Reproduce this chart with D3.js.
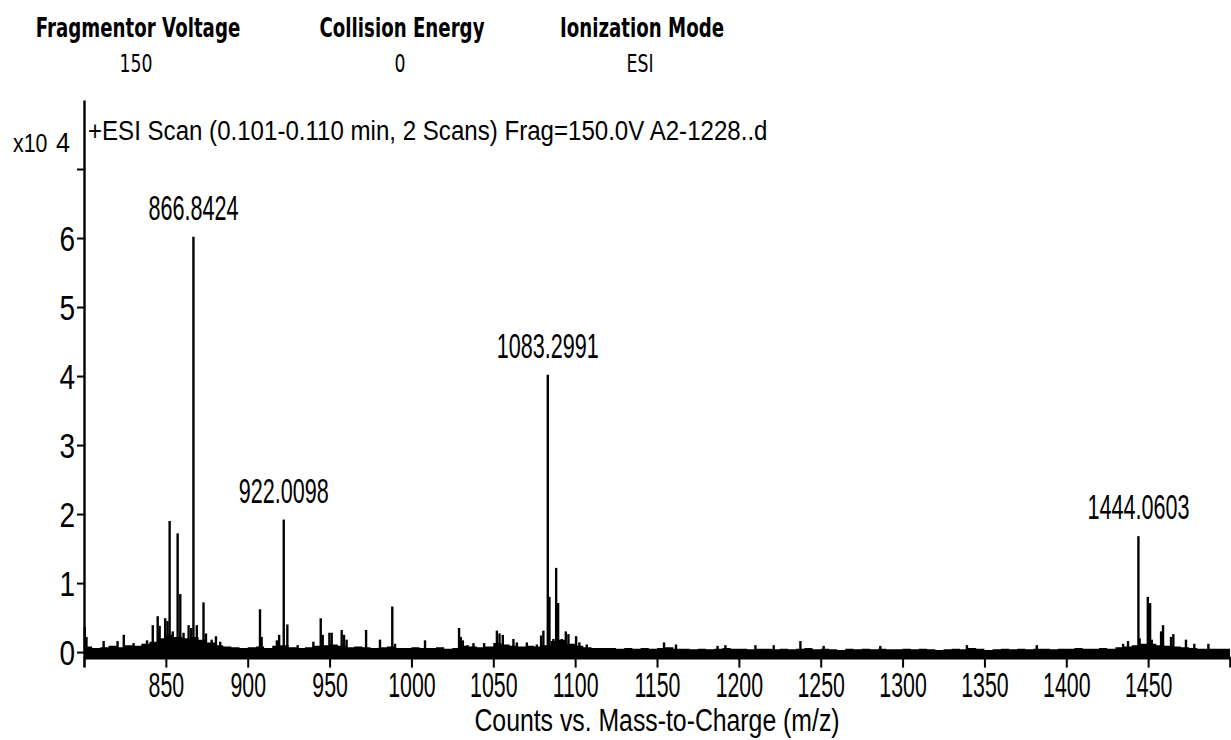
<!DOCTYPE html>
<html><head><meta charset="utf-8">
<script src="https://cdn.jsdelivr.net/npm/d3@7"></script>
<style>
html,body{margin:0;padding:0;background:#fff;}
svg{display:block;}
text{font-family:"Liberation Sans",Arial,sans-serif;fill:#000;}
</style></head><body>
<svg id="chart" width="1231" height="740"></svg>
<script>
// ---------- data ----------
const headerLabels = ["Fragmentor Voltage", "Collision Energy", "Ionization Mode"];
const headerValues = ["150", "0", "ESI"];
const scanTitle = "+ESI Scan (0.101-0.110 min, 2 Scans) Frag=150.0V A2-1228..d";
const yUnitBase = "x10";
const yUnitExp = "4";
const xAxisTitle = "Counts vs. Mass-to-Charge (m/z)";
const xDomain = [800, 1500];
const yDomain = [-0.08, 8];
const xTicks = [850, 900, 950, 1000, 1050, 1100, 1150, 1200, 1250, 1300, 1350, 1400, 1450];
const yTicks = [0, 1, 2, 3, 4, 5, 6, 7];
const yTickLabels = ["0", "1", "2", "3", "4", "5", "6", ""];

// stick peaks: m/z and counts (x10^4)
const peakMz = [
  800.5, 801.5, 812, 820.5, 824.3, 830.3, 838.5, 842, 845, 846.2, 849.6, 851, 852.3, 854.2,
  857.2, 858.8, 860.8, 863.9, 865.5, 866.8424, 868.9, 873, 874.5, 878, 880.6, 883.2,
  907.5, 908.5, 917.8, 919.2, 922.0098, 924.2, 930.5, 940.1, 944.6, 945.8, 949.9, 951.3,
  957.4, 958.8, 960.4, 972.3, 980.8, 988.3, 990,
  1008.3, 1029.1, 1030.1, 1031.4, 1034.2, 1037.9, 1044.4, 1052.2, 1053.8, 1055.8, 1062.3,
  1064.4, 1070.5, 1076.6, 1079.2, 1080.6, 1083.2991, 1084.3, 1086.7, 1088.4, 1089.6, 1091.8,
  1094.3, 1095.9, 1100.6, 1102.6, 1107.1,
  1154.3, 1161.6, 1187, 1191.8, 1210.1, 1221.3, 1237.6, 1251.8, 1286.4, 1339.3, 1382,
  1434.7, 1437.7, 1444.0603, 1444.8, 1449.8, 1451.2, 1452.2, 1457.9, 1459.1, 1464, 1465.4,
  1473.1, 1478.2, 1486.8
];
const peakCounts = [
  0.36, 0.22, 0.16, 0.16, 0.25, 0.13, 0.17, 0.39, 0.52, 0.38, 0.49, 0.45, 1.90, 0.30,
  1.72, 0.84, 0.28, 0.39, 0.35, 6.02, 0.39, 0.72, 0.27, 0.18, 0.23, 0.15,
  0.62, 0.22, 0.17, 0.25, 1.92, 0.40, 0.10, 0.15, 0.49, 0.25, 0.28, 0.28,
  0.32, 0.25, 0.18, 0.32, 0.18, 0.66, 0.12,
  0.17, 0.35, 0.22, 0.17, 0.10, 0.13, 0.13, 0.31, 0.27, 0.25, 0.19,
  0.14, 0.14, 0.11, 0.24, 0.31, 4.02, 0.80, 0.19, 1.22, 0.71, 0.19,
  0.30, 0.26, 0.23, 0.14, 0.11,
  0.14, 0.11, 0.09, 0.10, 0.10, 0.10, 0.16, 0.09, 0.09, 0.10, 0.10,
  0.12, 0.16, 1.68, 0.20, 0.80, 0.71, 0.18, 0.30, 0.39, 0.22, 0.26,
  0.18, 0.12, 0.12
];

// labelled peaks
const labelMz = [866.8424, 922.0098, 1083.2991, 1444.0603];
const labelCounts = [6.02, 1.92, 4.02, 1.68];

// baseline noise level (x10^4) in 5 m/z bins from 800 to 1500
const noiseLevel = [
  0.08, 0.06, 0.07, 0.09, 0.07, 0.10, 0.09, 0.12, 0.15, 0.20,
  0.25, 0.22, 0.20, 0.22, 0.18, 0.14, 0.10, 0.08, 0.07, 0.06,
  0.07, 0.08, 0.06, 0.09, 0.10, 0.07, 0.06, 0.07, 0.09, 0.10,
  0.11, 0.09, 0.07, 0.08, 0.07, 0.06, 0.07, 0.08, 0.06, 0.06,
  0.07, 0.06, 0.06, 0.07, 0.05, 0.06, 0.09, 0.08, 0.07, 0.08,
  0.13, 0.11, 0.09, 0.08, 0.09, 0.08, 0.10, 0.16, 0.18, 0.12,
  0.09, 0.07, 0.06, 0.06, 0.06, 0.05, 0.06, 0.05, 0.06, 0.05,
  0.06, 0.07, 0.05, 0.05, 0.04, 0.05, 0.04, 0.05, 0.06, 0.05,
  0.05, 0.04, 0.05, 0.05, 0.04, 0.05, 0.04, 0.05, 0.06, 0.04,
  0.05, 0.04, 0.03, 0.05, 0.04, 0.05, 0.04, 0.05, 0.04, 0.04,
  0.05, 0.04, 0.05, 0.04, 0.03, 0.04, 0.05, 0.04, 0.06, 0.05,
  0.03, 0.04, 0.05, 0.04, 0.05, 0.04, 0.05, 0.05, 0.04, 0.05,
  0.05, 0.06, 0.05, 0.05, 0.06, 0.05, 0.07, 0.08, 0.10, 0.12,
  0.12, 0.10, 0.09, 0.08, 0.07, 0.06, 0.05, 0.05, 0.05, 0.05
];
const noiseBinWidth = 5;

// ---------- drawing ----------
const svg = d3.select("#chart");
const x = d3.scaleLinear().domain(xDomain).range([84, 1230]);
const y = d3.scaleLinear().domain(yDomain).range([657.6, 100]);

function narrowText(g, str, px, py, size, sx, anchor, weight, family) {
  return g.append("text")
    .attr("transform", `translate(${px},${py}) scale(${sx},1)`)
    .attr("text-anchor", anchor || "start")
    .style("font-size", size + "px")
    .style("font-weight", weight || "normal")
    .style("font-family", family || null)
    .text(str);
}

// header
const headerX = [138, 402, 642];
headerLabels.forEach((t, i) => {
  narrowText(svg, t, headerX[i], 37, 26, 0.70, "middle", "bold", "'DejaVu Sans',Verdana,sans-serif");
  narrowText(svg, headerValues[i], headerX[i] - 2, 72, 24, 0.72, "middle", "normal", "'DejaVu Sans',Verdana,sans-serif");
});

// noise baseline
const noisePts = noiseLevel.map((v, i) => [xDomain[0] + i * noiseBinWidth, v]);
noisePts.push([xDomain[1], noiseLevel[noiseLevel.length - 1]]);
svg.append("path")
  .datum(noisePts)
  .attr("fill", "#000")
  .attr("d", d3.area().curve(d3.curveStepAfter)
    .x(d => x(d[0])).y0(y(yDomain[0])).y1(d => y(d[1])));

// sticks
svg.append("g").selectAll("line")
  .data(peakMz.map((m, i) => [m, peakCounts[i]]))
  .join("line")
  .attr("x1", d => x(d[0])).attr("x2", d => x(d[0]))
  .attr("y1", y(0)).attr("y2", d => y(d[1]))
  .attr("stroke", "#000").attr("stroke-width", 2.4);

// peak labels
labelMz.forEach((m, i) => {
  narrowText(svg, m.toFixed(4), x(m), y(labelCounts[i]) - 17, 36, 0.6, "middle");
});

// x axis
const gx = svg.append("g").attr("transform", `translate(0,${y(yDomain[0])})`)
  .call(d3.axisBottom(x).tickValues(xTicks).tickSize(10).tickSizeOuter(10).tickPadding(5).tickFormat(d3.format("d")));
gx.select(".domain").attr("stroke", "#000").attr("stroke-width", 2.6);
gx.selectAll(".tick line").attr("stroke", "#000").attr("stroke-width", 2);
gx.selectAll(".tick text")
  .style("font-size", "35px").style("font-family", "'Liberation Sans',Arial,sans-serif")
  .attr("fill", "#000")
  .attr("transform", "scale(0.61,1)");

// y axis
const gy = svg.append("g").attr("transform", `translate(${x(xDomain[0])},0)`)
  .call(d3.axisLeft(y).tickValues(yTicks).tickSize(7).tickSizeOuter(0).tickFormat((d, i) => yTickLabels[i]));
gy.select(".domain").attr("stroke", "#000").attr("stroke-width", 2.4);
gy.selectAll(".tick line").attr("stroke", "#000").attr("stroke-width", 2);
gy.selectAll(".tick text")
  .style("font-size", "35px").style("font-family", "'Liberation Sans',Arial,sans-serif")
  .attr("fill", "#000")
  .attr("x", 0).attr("dy", "0.36em")
  .attr("transform", "translate(-9,0) scale(0.8,1)");

// unit label
narrowText(svg, yUnitBase, 13, 152, 26, 0.82, "start");
narrowText(svg, yUnitExp, 56, 152, 28, 0.9, "start");

// scan title
narrowText(svg, scanTitle, 88, 140, 28, 0.86, "start");

// x axis title
narrowText(svg, xAxisTitle, 657, 731, 31, 0.8, "middle");
</script>
</body></html>
